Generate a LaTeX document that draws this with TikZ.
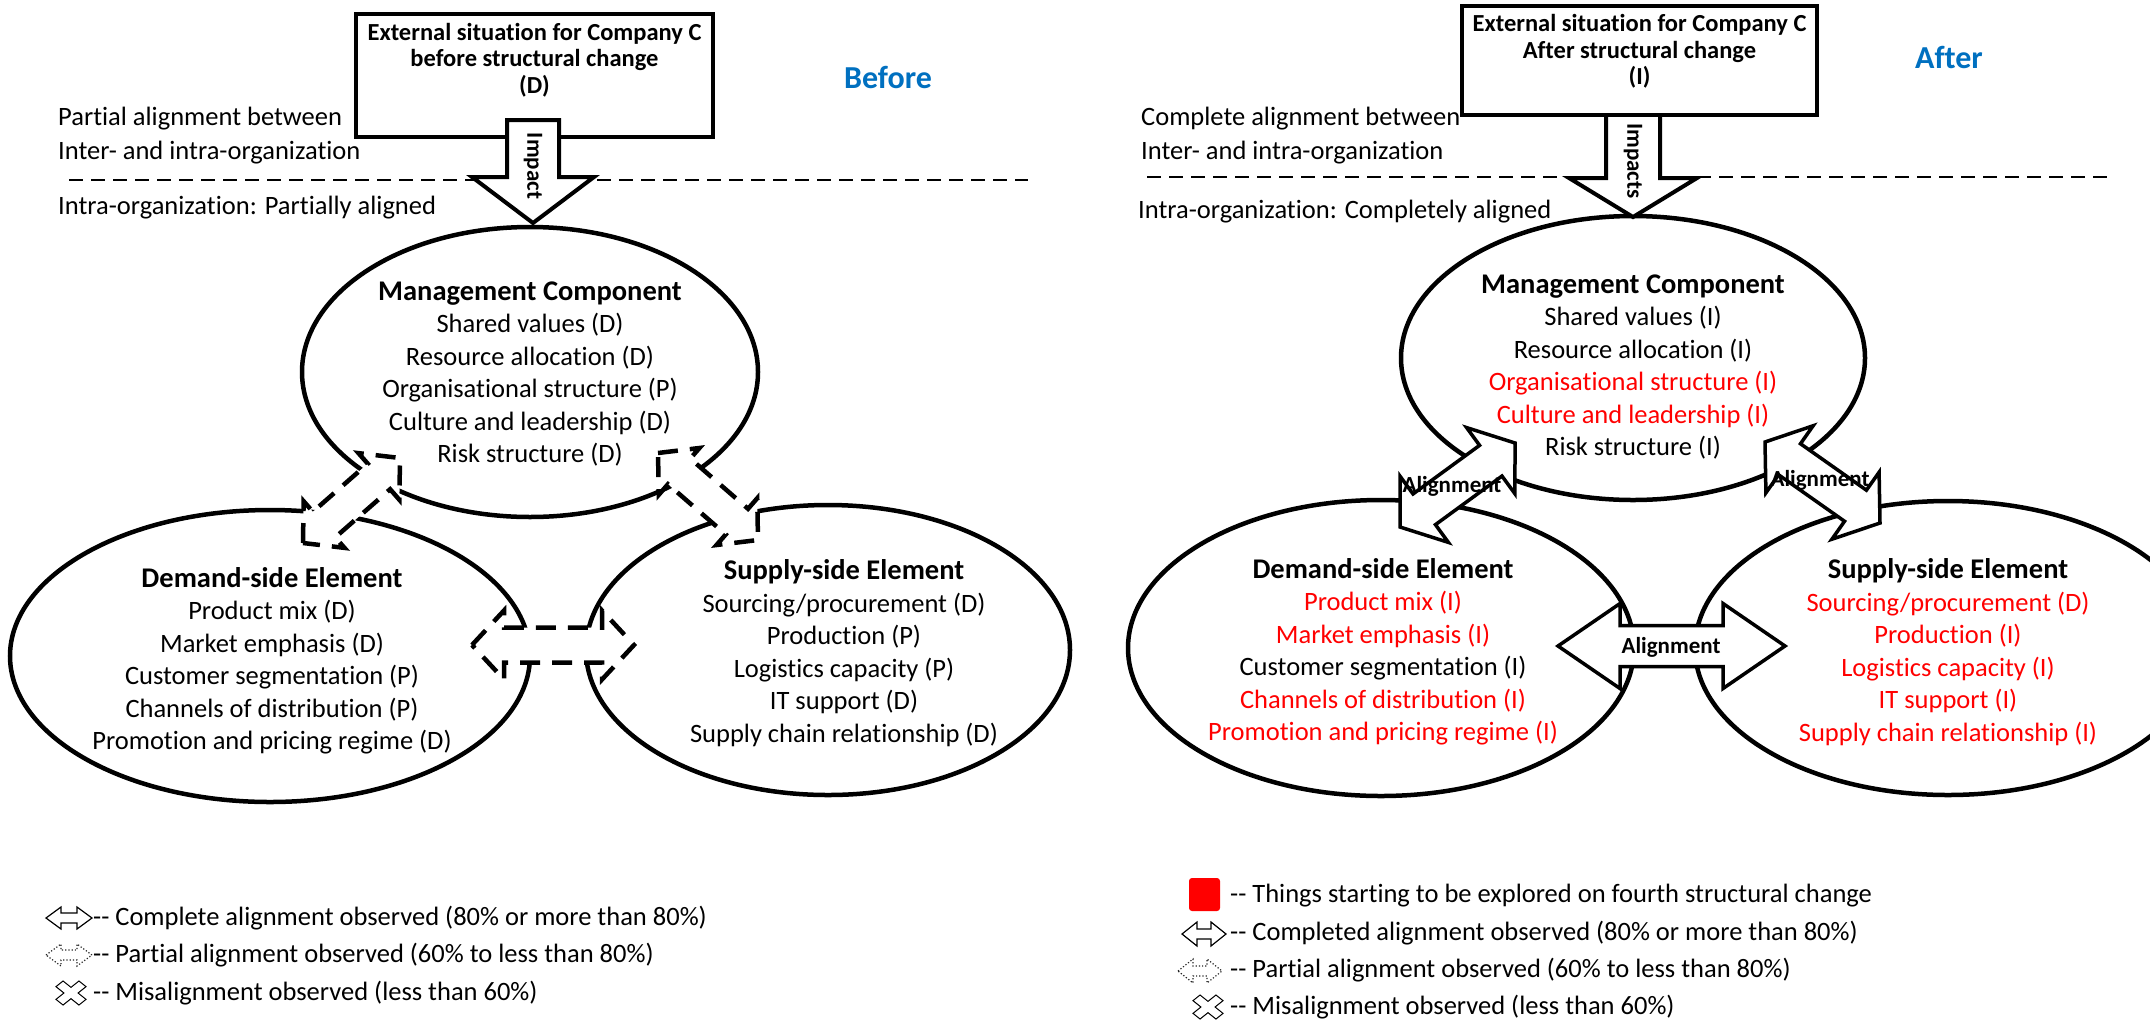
\documentclass[tikz,border=0pt]{standalone}
\usepackage{fontspec}
\setmainfont{Carlito}[Ligatures=NoCommon]
\usetikzlibrary{calc,shapes.geometric}
\definecolor{hdrblue}{HTML}{0070C0}
\definecolor{chgred}{HTML}{FF0000}
% double block arrow: #1 style, #2 tip A, #3 tip B, #4 head length, #5 head half width, #6 shaft half width
\newcommand{\dblarrow}[6]{%
  \path ($(#2)!#4!(#3)$) coordinate (hA) ($(#3)!#4!(#2)$) coordinate (hB);
  \draw[#1] (#2) -- ($(hA)!#5!90:(#3)$) -- ($(hA)!#6!90:(#3)$) -- ($(hB)!#6!-90:(#2)$) -- ($(hB)!#5!-90:(#2)$) -- (#3)
   -- ($(hB)!#5!90:(#2)$) -- ($(hB)!#6!90:(#2)$) -- ($(hA)!#6!-90:(#3)$) -- ($(hA)!#5!-90:(#3)$) -- cycle;}
% single block arrow: #1 style, #2 tail centre, #3 tip, #4 head length, #5 head half width, #6 shaft half width
\newcommand{\sglarrow}[6]{%
  \path ($(#3)!#4!(#2)$) coordinate (hB);
  \draw[#1] ($(#2)!#6!90:(#3)$) -- ($(hB)!#6!-90:(#2)$) -- ($(hB)!#5!-90:(#2)$) -- (#3)
   -- ($(hB)!#5!90:(#2)$) -- ($(hB)!#6!90:(#2)$) -- ($(#2)!#6!-90:(#3)$) -- cycle;}
\newcommand{\xicon}[1]{%
  \begin{scope}[shift={(#1)}, xscale=1.25, rotate=45]
    \draw[line width=1pt, fill=white] (-4,-13) -- (4,-13) -- (4,-4) -- (13,-4) -- (13,4) -- (4,4) -- (4,13) -- (-4,13) -- (-4,4) -- (-13,4) -- (-13,-4) -- (-4,-4) -- cycle;
  \end{scope}}
\begin{document}
\begin{tikzpicture}[x=1pt, y=-1pt,
  ell/.style={ellipse, draw, line width=4.5pt, inner sep=0pt},
  extbox/.style={draw, line width=4.5pt, fill=white, inner sep=0pt},
  boxtxt/.style={font=\fontsize{24.5}{26.5}\selectfont\bfseries, align=center, inner sep=0pt},
  body/.style={font=\fontsize{26.5}{32.5}\selectfont, align=center, inner sep=0pt},
  lbl/.style={font=\fontsize{26.5}{32}\selectfont, anchor=west, inner sep=0pt, text height=20pt, text depth=6pt},
  hdr/.style={font=\fontsize{32}{36}\selectfont\bfseries, text=hdrblue, inner sep=0pt},
  sepline/.style={line width=2.5pt, dash pattern=on 14pt off 8pt},
  solidarr/.style={line width=3.5pt, fill=white, line join=miter},
  dasharr/.style={line width=4.5pt, fill=white, dash pattern=on 20pt off 12pt},
  imparr/.style={line width=4pt, fill=white, line join=miter},
  imptxt/.style={font=\fontsize{23}{26}\selectfont\bfseries, rotate=-90, inner sep=0pt},
  algtxt/.style={font=\fontsize{23}{26}\selectfont\bfseries, inner sep=0pt},
  legarr/.style={line width=1.2pt, fill=white},
  legdot/.style={line width=1.2pt, fill=white, dotted, draw=black!85}]
\useasboundingbox (0,0) rectangle (2150,1021);
\fill[white] (0,0) rectangle (2150,1021);
\clip (0,0) rectangle (2150,1021);

%%%%%%%%%%%%%%%% LEFT PANEL (Before) %%%%%%%%%%%%%%%%
\coordinate (sepLa) at (69,180);
\coordinate (sepLb) at (1028,180);
\draw[sepline] (sepLa) -- (sepLb);

\node[ell, minimum width=456pt, minimum height=290pt] (mgmtL) at (530,372) {};
\node[ell, minimum width=520pt, minimum height=292pt] (demL) at (270,656) {};
\node[ell, minimum width=484pt, minimum height=290pt] (supL) at (828,650) {};

\node[extbox, minimum width=357pt, minimum height=123pt] (extL) at (534.5,75.5) {};
\node[boxtxt] (extLt) at (534.5,60) {External situation for Company C\\before structural change\\(D)};

\coordinate (impL0) at (533,120);
\coordinate (impL1) at (533,223);
\sglarrow{imparr}{impL0}{impL1}{46pt}{61pt}{26pt}
\node[imptxt] (impLt) at (533,166) {Impact};

\node[hdr] (beforeT) at (888,77) {Before};
\node[lbl] (partL1) at (58,118) {Partial alignment between};
\node[lbl] (partL2) at (58,152) {Inter- and intra-organization};
\node[lbl] (intraL) at (58,207) {Intra-organization: Partially aligned};

% partial alignment arrows (dashed)
\coordinate (a1s) at (303,543);
\coordinate (a1e) at (400,458);
\dblarrow{dasharr}{a1s}{a1e}{28pt}{31pt}{17pt}
\coordinate (a2s) at (658,453);
\coordinate (a2e) at (758,540);
\dblarrow{dasharr}{a2s}{a2e}{28pt}{31pt}{17pt}
\coordinate (a3s) at (472,645);
\coordinate (a3e) at (634,645);
\dblarrow{dasharr}{a3s}{a3e}{32pt}{34.5pt}{17.5pt}

\node[body] (mgmtLt) at (530,374) {{\fontsize{28.5}{32.5}\selectfont\bfseries Management Component}\\Shared values (D)\\Resource allocation (D)\\Organisational structure (P)\\Culture and leadership (D)\\Risk structure (D)};
\node[body] (demLt) at (272,661) {{\fontsize{28.5}{32.5}\selectfont\bfseries Demand-side Element}\\Product mix (D)\\Market emphasis (D)\\Customer segmentation (P)\\Channels of distribution (P)\\Promotion and pricing regime (D)};
\node[body] (supLt) at (844,653) {{\fontsize{28.5}{32.5}\selectfont\bfseries Supply-side Element}\\Sourcing/procurement (D)\\Production (P)\\Logistics capacity (P)\\IT support (D)\\Supply chain relationship (D)};

% legend left
\coordinate (lg1a) at (46,918);
\coordinate (lg1b) at (92,918);
\dblarrow{legarr}{lg1a}{lg1b}{15pt}{11pt}{5pt}
\coordinate (lg2a) at (46,955);
\coordinate (lg2b) at (92,955);
\dblarrow{legdot}{lg2a}{lg2b}{15pt}{11pt}{5pt}
\xicon{71,993}
\node[lbl] (legL1) at (93,918) {-{}- Complete alignment observed (80\% or more than 80\%)};
\node[lbl] (legL2) at (93,955) {-{}- Partial alignment observed (60\% to less than 80\%)};
\node[lbl] (legL3) at (93,993) {-{}- Misalignment observed (less than 60\%)};

%%%%%%%%%%%%%%%% RIGHT PANEL (After) %%%%%%%%%%%%%%%%
\coordinate (sepRa) at (1147,177);
\coordinate (sepRb) at (2107,177);
\draw[sepline] (sepRa) -- (sepRb);

\node[ell, minimum width=464pt, minimum height=284pt] (mgmtR) at (1633,358) {};
\node[ell, minimum width=506pt, minimum height=296pt] (demR) at (1381,648) {};
\node[ell, minimum width=506pt, minimum height=294pt] (supR) at (1948,648) {};

\coordinate (impR0) at (1633,112);
\coordinate (impR1) at (1633,217);
\sglarrow{imparr}{impR0}{impR1}{39pt}{64pt}{27pt}
\node[extbox, minimum width=355pt, minimum height=109pt] (extR) at (1639.5,60.5) {};
\node[boxtxt] (extRt) at (1639.5,51.5) {External situation for Company C\\After structural change\\(I)};
\node[imptxt] (impRt) at (1633,161) {Impacts};

\node[hdr] (afterT) at (1949,57) {After};
\node[lbl] (compR1) at (1141,118) {Complete alignment between};
\node[lbl] (compR2) at (1141,152) {Inter- and intra-organization};
\node[lbl] (intraR) at (1138,211) {Intra-organization: Completely aligned};

% complete alignment arrows (solid)
\coordinate (b1s) at (1400,527);
\coordinate (b1e) at (1515,443);
\dblarrow{solidarr}{b1s}{b1e}{30pt}{41pt}{19pt}
\coordinate (b2s) at (1765,442);
\coordinate (b2e) at (1880,523);
\dblarrow{solidarr}{b2s}{b2e}{30pt}{41pt}{19pt}
\coordinate (b3s) at (1558,646);
\coordinate (b3e) at (1785,646);
\dblarrow{solidarr}{b3s}{b3e}{62pt}{42.5pt}{20.5pt}
\node[algtxt] (alg1) at (1452,486) {Alignment};
\node[algtxt] (alg2) at (1820,480) {Alignment};
\node[algtxt] (alg3) at (1671,647) {Alignment};

\node[body] (mgmtRt) at (1633,367) {{\fontsize{28.5}{32.5}\selectfont\bfseries Management Component}\\Shared values (I)\\Resource allocation (I)\\\textcolor{chgred}{Organisational structure (I)}\\\textcolor{chgred}{Culture and leadership (I)}\\Risk structure (I)};
\node[body] (demRt) at (1383,652) {{\fontsize{28.5}{32.5}\selectfont\bfseries Demand-side Element}\\\textcolor{chgred}{Product mix (I)}\\\textcolor{chgred}{Market emphasis (I)}\\Customer segmentation (I)\\\textcolor{chgred}{Channels of distribution (I)}\\\textcolor{chgred}{Promotion and pricing regime (I)}};
\node[body] (supRt) at (1948,652) {{\fontsize{28.5}{32.5}\selectfont\bfseries Supply-side Element}\\\textcolor{chgred}{Sourcing/procurement (D)}\\\textcolor{chgred}{Production (I)}\\\textcolor{chgred}{Logistics capacity (I)}\\\textcolor{chgred}{IT support (I)}\\\textcolor{chgred}{Supply chain relationship (I)}};

% legend right
\node[fill=chgred, rounded corners=3pt, minimum width=31pt, minimum height=33pt, inner sep=0pt] (redsq) at (1204.5,894.5) {};
\coordinate (lg3a) at (1182,934);
\coordinate (lg3b) at (1226,934);
\dblarrow{legarr}{lg3a}{lg3b}{15pt}{12pt}{5pt}
\coordinate (lg4a) at (1178,971);
\coordinate (lg4b) at (1222,971);
\dblarrow{legdot}{lg4a}{lg4b}{15pt}{12pt}{5pt}
\xicon{1208,1007}
\node[lbl] (legR1) at (1230,895) {-{}- Things starting to be explored on fourth structural change};
\node[lbl] (legR2) at (1230,933) {-{}- Completed alignment observed (80\% or more than 80\%)};
\node[lbl] (legR3) at (1230,970) {-{}- Partial alignment observed (60\% to less than 80\%)};
\node[lbl] (legR4) at (1230,1007) {-{}- Misalignment observed (less than 60\%)};
\end{tikzpicture}
\end{document}
